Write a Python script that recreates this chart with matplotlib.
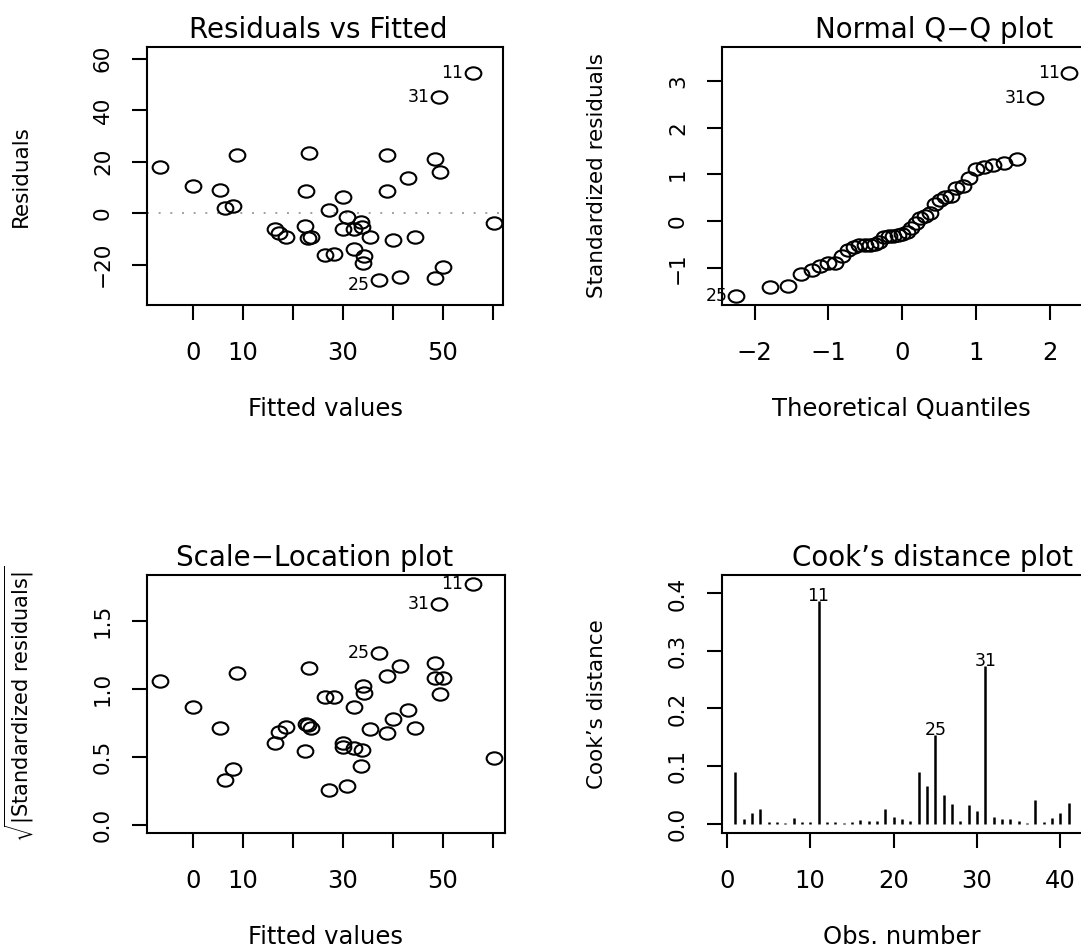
import matplotlib
matplotlib.use('Agg')
import matplotlib.pyplot as plt
from matplotlib.path import Path
from matplotlib.transforms import Affine2D

# ---------------- data ----------------
fitted = [-6.7, -0.1, 5.4, 8.7, 6.4, 7.9, 16.4, 17.1, 18.5, 23.2, 22.5, 22.4, 22.9, 23.6,
          26.3, 28.1, 27.1, 29.9, 30.7, 29.9, 32.2, 33.5, 33.7, 32.1, 34.1, 33.9, 35.4,
          37.1, 38.7, 38.7, 39.9, 41.3, 42.9, 44.4, 48.3, 49.3, 49.1, 55.9, 49.9, 48.4, 60.1]
residuals = [18.0, 10.5, 8.9, 22.7, 1.8, 2.8, -6.0, -7.6, -9.2, 23.2, 8.7, -5.0, -9.5, -9.2,
             -16.1, -15.7, 1.2, 6.3, -1.4, -6.0, -6.0, -3.4, -5.3, -14.0, -16.7, -19.3, -9.2,
             -25.8, 22.5, 8.5, -10.5, -25.0, 13.5, -9.2, 21.0, 16.0, 45.2, 54.5, -20.9, -25.1, -3.8]
sqrt_abs_std_resid = [1.06, 0.87, 0.716, 1.115, 0.331, 0.41, 0.60, 0.68, 0.72, 1.157, 0.74, 0.546,
                      0.735, 0.716, 0.94, 0.94, 0.257, 0.60, 0.287, 0.57, 0.568, 0.43, 0.55, 0.865,
                      0.97, 1.02, 0.706, 1.262, 1.098, 0.674, 0.78, 1.169, 0.846, 0.711, 1.079,
                      0.963, 1.625, 1.772, 1.079, 1.19, 0.49]
point_labels = {37: "11", 36: "31", 27: "25"}

theoretical_q = [-2.251, -1.791, -1.546, -1.370, -1.228, -1.107, -1.000, -0.904, -0.816, -0.733,
                 -0.655, -0.582, -0.511, -0.442, -0.375, -0.310, -0.246, -0.184, -0.122, -0.061,
                 0.000, 0.061, 0.122, 0.184, 0.246, 0.310, 0.375, 0.442, 0.511, 0.582, 0.655,
                 0.733, 0.816, 0.904, 1.000, 1.107, 1.228, 1.370, 1.546, 1.791, 2.251]
std_resid_sorted = [-1.60, -1.405, -1.38, -1.14, -1.048, -0.963, -0.891, -0.891, -0.749, -0.62,
                    -0.549, -0.513, -0.513, -0.513, -0.492, -0.442, -0.349, -0.32, -0.32, -0.30,
                    -0.278, -0.228, -0.143, -0.05, 0.057, 0.107, 0.164, 0.364, 0.449, 0.506,
                    0.535, 0.72, 0.755, 0.927, 1.127, 1.162, 1.198, 1.255, 1.34, 2.64, 3.17]
qq_labels = {40: "11", 39: "31", 0: "25"}

obs_number = list(range(1, 42))
cooks_d = [0.089, 0.008, 0.018, 0.025, 0.003, 0.003, 0.001, 0.009, 0.002, 0.002, 0.387, 0.002,
           0.002, 0.001, 0.002, 0.006, 0.004, 0.005, 0.026, 0.012, 0.007, 0.005, 0.089, 0.066,
           0.154, 0.050, 0.034, 0.005, 0.033, 0.021, 0.274, 0.012, 0.007, 0.007, 0.005, 0.001,
           0.040, 0.002, 0.010, 0.018, 0.036]
cook_labelled = [11, 25, 31]

fitted_ticks = [0, 10, 20, 30, 40, 50, 60]
fitted_ticklabels = ["0", "10", "", "30", "", "50", ""]
resid_ticks = [-20, 0, 20, 40, 60]
qq_xticks = [-2, -1, 0, 1, 2]
qq_yticks = [-1, 0, 1, 2, 3]
sl_ticks = [0.0, 0.5, 1.0, 1.5]
sl_ticklabels = ["0.0", "0.5", "1.0", "1.5"]
cook_xticks = [0, 10, 20, 30, 40]
cook_yticks = [0.0, 0.1, 0.2, 0.3, 0.4]
cook_yticklabels = ["0.0", "0.1", "0.2", "0.3", "0.4"]

# ---------------- styling ----------------
plt.rcParams['font.family'] = ['DejaVu Sans']
plt.rcParams['mathtext.fontset'] = 'dejavusans'

W, H = 1081, 951
fig = plt.figure(figsize=(W / 100, H / 100), dpi=100)


def box(l, t, r, b):
    return [l / W, 1 - b / H, (r - l) / W, (b - t) / H]


ellipse = Path.unit_circle().transformed(Affine2D().scale(1.27, 1.0))
mk = dict(ls='none', marker=ellipse, ms=11.3, mfc='none', mec='black', mew=1.5)

XT = 17.5   # horizontal text size
YT = 15.5   # vertical text size
LT = 12.5   # point label size


def style(ax, title, title_x, xlabel, ylabel, ylab_x, ylab_size=YT):
    for s in ax.spines.values():
        s.set_linewidth(1.5)
    ax.tick_params(axis='both', direction='out', length=10.8, width=1.5)
    ax.tick_params(axis='x', labelsize=XT, pad=15.0)
    ax.tick_params(axis='y', labelsize=YT, pad=13.7, labelrotation=90)
    for lab in ax.get_yticklabels():
        lab.set_va('center')
    ax.set_title(title, fontsize=20, pad=6.5, x=title_x)
    ax.set_xlabel(xlabel, fontsize=XT, va='center')
    ax.xaxis.set_label_coords(0.5, -0.405)
    ax.set_ylabel(ylabel, fontsize=ylab_size, va='center')
    ax.yaxis.set_label_coords(ylab_x, 0.5)


# ---- Residuals vs Fitted ----
ax1 = fig.add_axes(box(147, 47, 503, 305))
ax1.axhline(0, color='#a0a0a0', ls=(0, (1, 5)), lw=1.4)
ax1.plot(fitted, residuals, **mk)
for i, t in point_labels.items():
    dy = -4 if t == "25" else 0
    ax1.annotate(t, (fitted[i], residuals[i]), xytext=(-6.5, dy), textcoords='offset points',
                 ha='right', va='center', fontsize=LT)
ax1.set_xlim(-9.2, 62)
ax1.set_ylim(-35.7, 64.5)
ax1.set_xticks(fitted_ticks)
ax1.set_xticklabels(fitted_ticklabels)
ax1.set_yticks(resid_ticks)
style(ax1, "Residuals vs Fitted", 0.48, "Fitted values", "Residuals", (21 - 147) / 356)

# ---- Normal Q-Q ----
ax2 = fig.add_axes(box(722, 47, 1081, 305))
ax2.plot(theoretical_q, std_resid_sorted, **mk)
for i, t in qq_labels.items():
    ax2.annotate(t, (theoretical_q[i], std_resid_sorted[i]), xytext=(-6.0, 0),
                 textcoords='offset points', ha='right', va='center', fontsize=LT)
ax2.set_xlim(-2.44, (1081 - 902) / 74)
ax2.set_ylim(-1.797, 3.73)
ax2.set_xticks(qq_xticks)
ax2.set_yticks(qq_yticks)
ax2.spines['right'].set_visible(False)
style(ax2, "Normal Q\u2212Q plot", 0.59, "Theoretical Quantiles", "Standardized residuals",
      (597 - 722) / 359)

# ---- Scale-Location ----
ax3 = fig.add_axes(box(147, 575, 505, 833))
ax3.plot(fitted, sqrt_abs_std_resid, **mk)
for i, t in point_labels.items():
    ax3.annotate(t, (fitted[i], sqrt_abs_std_resid[i]), xytext=(-6.5, 0),
                 textcoords='offset points', ha='right', va='center', fontsize=LT)
ax3.set_xlim(-9.2, 62.4)
ax3.set_ylim(-0.059, 1.838)
ax3.set_xticks(fitted_ticks)
ax3.set_xticklabels(fitted_ticklabels)
ax3.set_yticks(sl_ticks)
ax3.set_yticklabels(sl_ticklabels)
style(ax3, "Scale\u2212Location plot", 0.469, "Fitted values",
      r"$\sqrt{|\mathrm{Standardized\ residuals}|}$", (19 - 147) / 358, ylab_size=15)

# ---- Cook's distance ----
ax4 = fig.add_axes(box(722, 575, 1081, 833))
ax4.vlines(obs_number, 0, cooks_d, color='black', lw=1.8)
for o in cook_labelled:
    ax4.annotate(str(o), (o, cooks_d[o - 1]), xytext=(0, -3.0), textcoords='offset points',
                 ha='center', va='bottom', fontsize=LT)
ax4.set_xlim(-0.58, (1081 - 726.6) / 8.345)
ax4.set_ylim(-0.0165, 0.432)
ax4.set_xticks(cook_xticks)
ax4.set_yticks(cook_yticks)
ax4.set_yticklabels(cook_yticklabels)
ax4.spines['right'].set_visible(False)
style(ax4, "Cook\u2019s distance plot", 0.585, "Obs. number", "Cook\u2019s distance",
      (597 - 722) / 359)
ax4.xaxis.set_label_coords(0.5, -0.403)

fig.savefig("out.png", dpi=100)
